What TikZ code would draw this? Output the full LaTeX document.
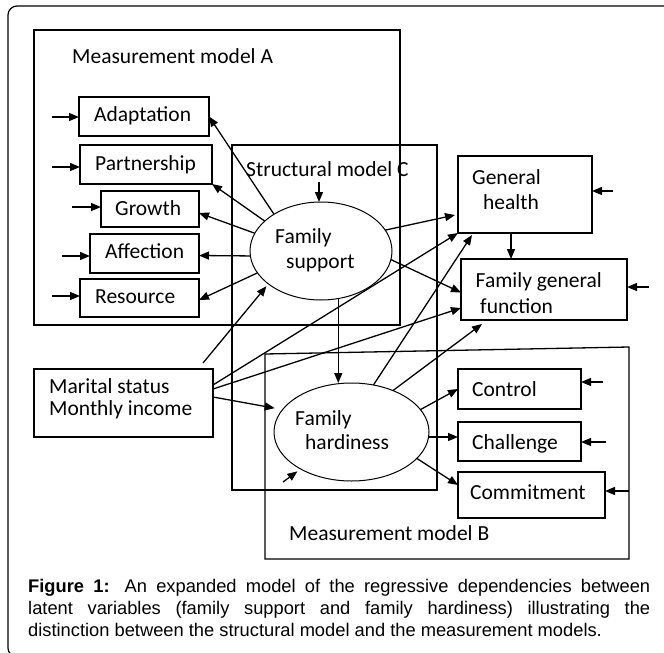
\documentclass[tikz,border=0pt]{standalone}
\usepackage{fontspec}
\newfontfamily\diagfont{Carlito}
\newfontfamily\capfont{Liberation Sans}
\usetikzlibrary{arrows.meta,calc,shapes.geometric}
\begin{document}
\begin{tikzpicture}[x=1pt,y=-1pt,
  box/.style={draw,line width=1.3pt,rectangle,inner sep=0pt,outer sep=0pt},
  latent/.style={draw,line width=1pt,ellipse,inner sep=0pt,outer sep=0pt},
  lab/.style={inner sep=0pt,anchor=base west,font=\diagfont\fontsize{21.5}{26}\selectfont},
  captext/.style={inner sep=0pt,anchor=base west,font=\capfont\fontsize{18.3}{22}\selectfont},
  arr/.style={line width=1.3pt,-{Triangle[length=10pt,width=8pt]}},
  region/.style={line width=1.3pt}]
\useasboundingbox (0,0) rectangle (664,653);

% outer frame, running off the right and bottom edges
\begin{scope}
  \clip (0,0) rectangle (664,653);
  \draw[line width=1.2pt, rounded corners=9pt] (8,6) rectangle (690,657);
\end{scope}

% model regions
\draw[region] (34,30) rectangle (400,325);
\draw[region] (232,145) rectangle (437,490);
\draw[region] (265,354) -- (629,347) -- (629,559) -- (265,559) -- cycle;

\node[lab] (tA) at (72,63.5) {Measurement model A};
\node[lab] (tC) at (246,176) {Structural model C};
\node[lab] (tB) at (289,540) {Measurement model B};

% observed indicators of family support
\node[box, minimum width=130, minimum height=39] (ada) at (144,116.5) {};
\node[box, minimum width=132, minimum height=39] (par) at (146,164.5) {};
\node[box, minimum width=98,  minimum height=36] (gro) at (150,209) {};
\node[box, minimum width=109, minimum height=39] (aff) at (144.5,253.5) {};
\node[box, minimum width=119, minimum height=38] (res) at (139.5,298) {};
\node[lab] (tada) at (94,121.5) {Adaptation};
\node[lab] (tpar) at (95,170.5) {Partnership};
\node[lab] (tgro) at (115,215.5) {Growth};
\node[lab] (taff) at (105,258.3) {Affection};
\node[lab] (tres) at (95,303.3) {Resource};

% outcomes
\node[box, minimum width=134, minimum height=77] (gh) at (525,194.5) {};
\node[box, minimum width=166, minimum height=61] (fgf) at (544,289.5) {};
\node[lab] (tgh1) at (472,184) {General};
\node[lab] (tgh2) at (483,209) {health};
\node[lab] (tfg1) at (475.5,287.7) {Family general};
\node[lab] (tfg2) at (480,313) {function};

% covariates
\node[box, minimum width=179, minimum height=68] (mar) at (123.5,403) {};
\node[lab] (tmar1) at (49,393.3) {Marital status};
\node[lab] (tmar2) at (49,415.7) {Monthly income};

% observed indicators of family hardiness
\node[box, minimum width=123, minimum height=40] (con) at (519.5,389) {};
\node[box, minimum width=123, minimum height=39] (cha) at (519.5,441.5) {};
\node[box, minimum width=147, minimum height=46] (com) at (531.5,495) {};
\node[lab] (tcon) at (472,396) {Control};
\node[lab] (tcha) at (472,449) {Challenge};
\node[lab] (tcom) at (470,499.3) {Commitment};

% latent variables
\node[latent, minimum width=142, minimum height=98] (sup) at (321,251) {};
\node[latent, minimum width=155, minimum height=98] (hard) at (351.5,432) {};
\node[lab] (tsup1) at (275,243.3) {Family};
\node[lab] (tsup2) at (286,268.3) {support};
\node[lab] (thd1) at (295,425) {Family};
\node[lab] (thd2) at (305,449.3) {hardiness};

% error terms
\coordinate (ina) at (52,117);
\coordinate (inp) at (52,167);
\coordinate (ing) at (72,207);
\coordinate (inf) at (62,256);
\coordinate (inr) at (52,296);
\draw[arr] (ina) -- (ina -| ada.west);
\draw[arr] (inp) -- (inp -| par.west);
\draw[arr] (ing) -- (ing -| gro.west);
\draw[arr] (inf) -- (inf -| aff.west);
\draw[arr] (inr) -- (inr -| res.west);

\coordinate (ins) at (319,182);
\draw[arr] (ins) -- (ins |- sup.north);

\coordinate (igh) at (613,191);
\coordinate (ifg) at (649,287);
\coordinate (icn) at (603,382);
\coordinate (ich) at (606,442);
\coordinate (icm) at (629,491);
\draw[arr] (igh) -- (igh -| gh.east);
\draw[arr] (ifg) -- (ifg -| fgf.east);
\draw[arr] (icn) -- (icn -| con.east);
\draw[arr] (ich) -- (ich -| cha.east);
\draw[arr] (icm) -- (icm -| com.east);

\coordinate (ihd) at (283,482);
\draw[arr, shorten >=4pt] (ihd) -- (hard.216);

% measurement paths of family support
\draw[arr] (sup.142) -- (ada.east);
\draw[arr] (sup.152) -- (par.south east);
\draw[arr] (sup.165) -- ([yshift=-4pt]gro.east);
\draw[arr] (sup.184) -- ([yshift=-2pt]aff.east);
\draw[arr] (sup.199) -- ([yshift=-2pt]res.east);

% structural paths
\draw[arr] (sup.18) -- ($(gh.south west)+(-3,-18)$);
\draw[arr] (sup.353) -- ($(fgf.west)+(0,3)$);
\draw[arr] (sup.290) -- (sup.290 |- hard.north);
\draw[arr] ([xshift=-14pt]gh.south) -- ([xshift=-14pt]gh.south |- fgf.north);

\coordinate (mtop) at ($(mar.north east)+(-10,-6)$);
\draw[arr, shorten >=3pt] (mtop) -- (sup.212);
\draw[arr] ([yshift=18pt]mar.east) -- (gh.south west);
\draw[arr] ([yshift=14pt]mar.east) -- ($(fgf.south west)+(0,-12)$);
\draw[arr, shorten >=8pt] ([yshift=6pt]mar.east) -- (hard.162);

\draw[arr] (hard.65) -- ($(gh.south west)+(14,2)$);
\draw[arr] (hard.45) -- ($(fgf.south west)+(21,4)$);

% measurement paths of family hardiness
\draw[arr] (hard.18) -- (con.west);
\draw[arr] ([yshift=-5pt]hard.east) -- ([yshift=-5pt]hard.east -| cha.west);
\draw[arr] (hard.338) -- ([yshift=10pt]com.west);

% caption
\node[captext] (cap1) at (28,592) {\makebox[622pt][s]{\textbf{Figure 1:} An expanded model of the regressive dependencies between}};
\node[captext] (cap2) at (28,614) {\makebox[622pt][s]{latent variables (family support and family hardiness) illustrating the}};
\node[captext] (cap3) at (28,636) {distinction between the structural model and the measurement models.};
\end{tikzpicture}
\end{document}
